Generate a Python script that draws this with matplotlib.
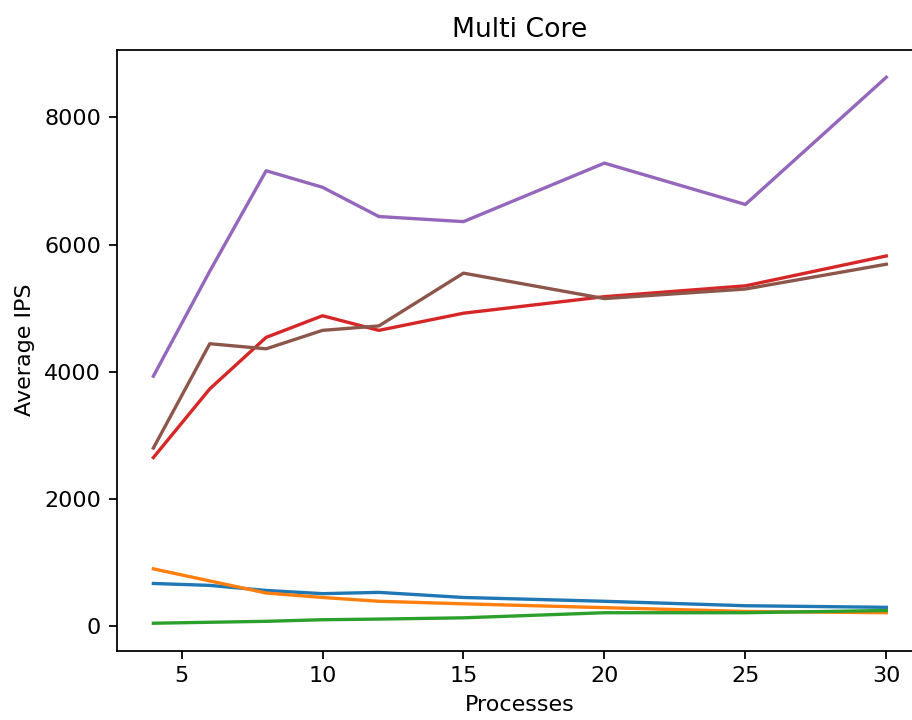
import matplotlib
matplotlib.use("Agg")
import matplotlib.pyplot as plt

processes = [4, 6, 8, 10, 12, 15, 20, 25, 30]

# average IPS per configuration
blue = [670, 640, 560, 510, 530, 450, 390, 320, 295]
orange = [900, 710, 520, 450, 390, 350, 290, 230, 210]
green = [45, 60, 75, 100, 110, 130, 210, 210, 245]
red = [2650, 3730, 4540, 4880, 4650, 4920, 5180, 5350, 5820]
purple = [3930, 5580, 7160, 6900, 6440, 6360, 7280, 6630, 8630]
brown = [2800, 4440, 4360, 4650, 4720, 5550, 5150, 5300, 5690]

fig = plt.figure(figsize=(912 / 160, 720 / 160), dpi=160)
# original render is clipped on the right, so the axes run past the edge
plt.subplots_adjust(left=0.128, right=1.012, top=0.9306, bottom=0.0965)
plt.plot(processes, blue)
plt.plot(processes, orange)
plt.plot(processes, green)
plt.plot(processes, red)
plt.plot(processes, purple)
plt.plot(processes, brown)
plt.title("Multi Core")
plt.xlabel("Processes")
plt.ylabel("Average IPS")
plt.savefig("out.png")
